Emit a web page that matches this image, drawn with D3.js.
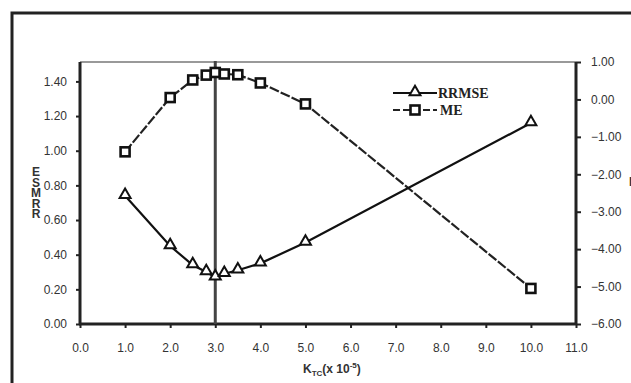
<!DOCTYPE html>
<html>
<head>
<meta charset="utf-8">
<script src="https://cdn.jsdelivr.net/npm/d3@7"></script>
<style>
  body { margin: 0; background: #fff; }
  svg { display: block; }
  .tick text { font-family: "Liberation Sans", Arial, sans-serif; font-size: 12px; fill: #333; }
</style>
</head>
<body>
<svg id="chart" width="631" height="383"></svg>
<script>
// data
const ktc = [1.0, 2.0, 2.5, 2.8, 3.0, 3.2, 3.5, 4.0, 5.0, 10.0];
const rrmse = [0.74, 0.45, 0.34, 0.30, 0.27, 0.29, 0.31, 0.35, 0.47, 1.16];
const me = [-1.40, 0.05, 0.52, 0.65, 0.72, 0.68, 0.66, 0.44, -0.12, -5.05];
const xTicks = d3.range(0, 11.5, 1);
const leftTicks = [0, 0.2, 0.4, 0.6, 0.8, 1.0, 1.2, 1.4];
const rightTicks = [1, 0, -1, -2, -3, -4, -5, -6];
const markLine = 3.0;

const svg = d3.select('#chart');

// outer frame
svg.append('rect')
  .attr('x', 12).attr('y', 13)
  .attr('width', 700).attr('height', 500)
  .attr('fill', 'none')
  .attr('stroke', '#222')
  .attr('stroke-width', 3);

const plot = { left: 80, right: 576, top: 62, bottom: 324 };

const x = d3.scaleLinear().domain([0, 11]).range([plot.left, plot.right]);
const yL = d3.scaleLinear().domain([0, 1.512]).range([plot.bottom, plot.top]);
const yR = d3.scaleLinear().domain([-6, 1]).range([plot.bottom, plot.top]);

// top border of the plot area
svg.append('line')
  .attr('x1', plot.left).attr('x2', plot.right)
  .attr('y1', plot.top).attr('y2', plot.top)
  .attr('stroke', '#999').attr('stroke-width', 2);

// axes
const xAxis = svg.append('g')
  .attr('transform', 'translate(0,' + plot.bottom + ')')
  .call(d3.axisBottom(x).tickValues(xTicks).tickSize(4).tickPadding(15).tickFormat(d3.format('.1f')));

const leftAxis = svg.append('g')
  .attr('transform', 'translate(' + plot.left + ',0)')
  .call(d3.axisLeft(yL).tickValues(leftTicks).tickSize(4).tickPadding(9).tickFormat(d3.format('.2f')));

const rightAxis = svg.append('g')
  .attr('transform', 'translate(' + plot.right + ',0)')
  .call(d3.axisRight(yR).tickValues(rightTicks).tickSize(5).tickPadding(10).tickFormat(d3.format('.2f')));

[xAxis, leftAxis, rightAxis].forEach(a => {
  a.select('.domain').attr('stroke', '#222').attr('stroke-width', 3);
  a.selectAll('.tick line').attr('stroke', '#222').attr('stroke-width', 2);
});
xAxis.select('.domain').attr('d', 'M' + (plot.left - 1) + ',0H' + (plot.right + 1));
leftAxis.select('.domain').attr('d', 'M0,' + plot.top + 'V' + (plot.bottom + 1));
rightAxis.select('.domain').attr('d', 'M0,' + plot.top + 'V' + (plot.bottom + 1));
rightAxis.selectAll('.tick text').attr('text-anchor', 'start');

// vertical marker at K = 3.0
svg.append('line')
  .attr('x1', x(markLine)).attr('x2', x(markLine))
  .attr('y1', plot.top - 1).attr('y2', plot.bottom)
  .attr('stroke', '#444').attr('stroke-width', 3);

// series lines
const lineL = d3.line().x((d, i) => x(ktc[i])).y(d => yL(d));
const lineR = d3.line().x((d, i) => x(ktc[i])).y(d => yR(d));

svg.append('path')
  .datum(me)
  .attr('d', lineR)
  .attr('fill', 'none')
  .attr('stroke', '#222')
  .attr('stroke-width', 2.2)
  .attr('stroke-dasharray', '10,2');

svg.append('path')
  .datum(rrmse)
  .attr('d', lineL)
  .attr('fill', 'none')
  .attr('stroke', '#111')
  .attr('stroke-width', 2.2);

// markers
const tri = d3.symbol().type(d3.symbolTriangle).size(52);
svg.append('g')
  .selectAll('path')
  .data(rrmse)
  .join('path')
  .attr('transform', (d, i) => 'translate(' + x(ktc[i]) + ',' + (yL(d) - 1) + ')')
  .attr('d', tri)
  .attr('fill', '#fff')
  .attr('stroke', '#111')
  .attr('stroke-width', 2);

svg.append('g')
  .selectAll('rect')
  .data(me)
  .join('rect')
  .attr('x', (d, i) => x(ktc[i]) - 4.5)
  .attr('y', d => yR(d) - 4.5)
  .attr('width', 9).attr('height', 9)
  .attr('fill', '#fff')
  .attr('stroke', '#111')
  .attr('stroke-width', 2.6);

// legend
const legend = svg.append('g').attr('transform', 'translate(393,0)');
legend.append('line')
  .attr('x1', 0).attr('x2', 44).attr('y1', 93).attr('y2', 93)
  .attr('stroke', '#111').attr('stroke-width', 2.2);
legend.append('path')
  .attr('transform', 'translate(22,92)')
  .attr('d', tri)
  .attr('fill', '#fff').attr('stroke', '#111').attr('stroke-width', 2);
legend.append('text')
  .attr('x', 45).attr('y', 98)
  .style('font-family', '"Liberation Serif", "Times New Roman", serif')
  .style('font-weight', 'bold').style('font-size', '14px').attr('fill', '#222')
  .text('RRMSE');

legend.append('line')
  .attr('x1', 0).attr('x2', 44).attr('y1', 110).attr('y2', 110)
  .attr('stroke', '#222').attr('stroke-width', 2.2)
  .attr('stroke-dasharray', '7,3');
legend.append('rect')
  .attr('x', 17.5).attr('y', 105.5).attr('width', 9).attr('height', 9)
  .attr('fill', '#fff').attr('stroke', '#111').attr('stroke-width', 2.6);
legend.append('text')
  .attr('x', 47).attr('y', 115)
  .style('font-family', '"Liberation Serif", "Times New Roman", serif')
  .style('font-weight', 'bold').style('font-size', '14px').attr('fill', '#222')
  .text('ME');

// left axis title, letters stacked
const yTitle = svg.append('text')
  .attr('text-anchor', 'middle')
  .style('font-family', '"Liberation Sans", Arial, sans-serif')
  .style('font-weight', 'bold').style('font-size', '12px').attr('fill', '#333');
['E', 'S', 'M', 'R', 'R'].forEach((c, i) => {
  yTitle.append('tspan').attr('x', 36).attr('y', 176 + i * 10.5).text(c);
});

// right axis title (cut off at the edge)
svg.append('text')
  .attr('x', 629).attr('y', 186)
  .style('font-family', '"Liberation Sans", Arial, sans-serif')
  .style('font-weight', 'bold').style('font-size', '12px').attr('fill', '#333')
  .text('ME');

// x axis title
const xTitle = svg.append('text')
  .attr('x', 303).attr('y', 373)
  .style('font-family', '"Liberation Sans", Arial, sans-serif')
  .style('font-weight', 'bold').style('font-size', '12px').attr('fill', '#333');
xTitle.append('tspan').text('K');
xTitle.append('tspan').attr('dy', 3).style('font-size', '8px').text('TC');
xTitle.append('tspan').attr('dy', -3).text('(x 10');
xTitle.append('tspan').attr('dy', -5).style('font-size', '8px').text('-5');
xTitle.append('tspan').attr('dy', 5).text(')');
</script>
</body>
</html>
